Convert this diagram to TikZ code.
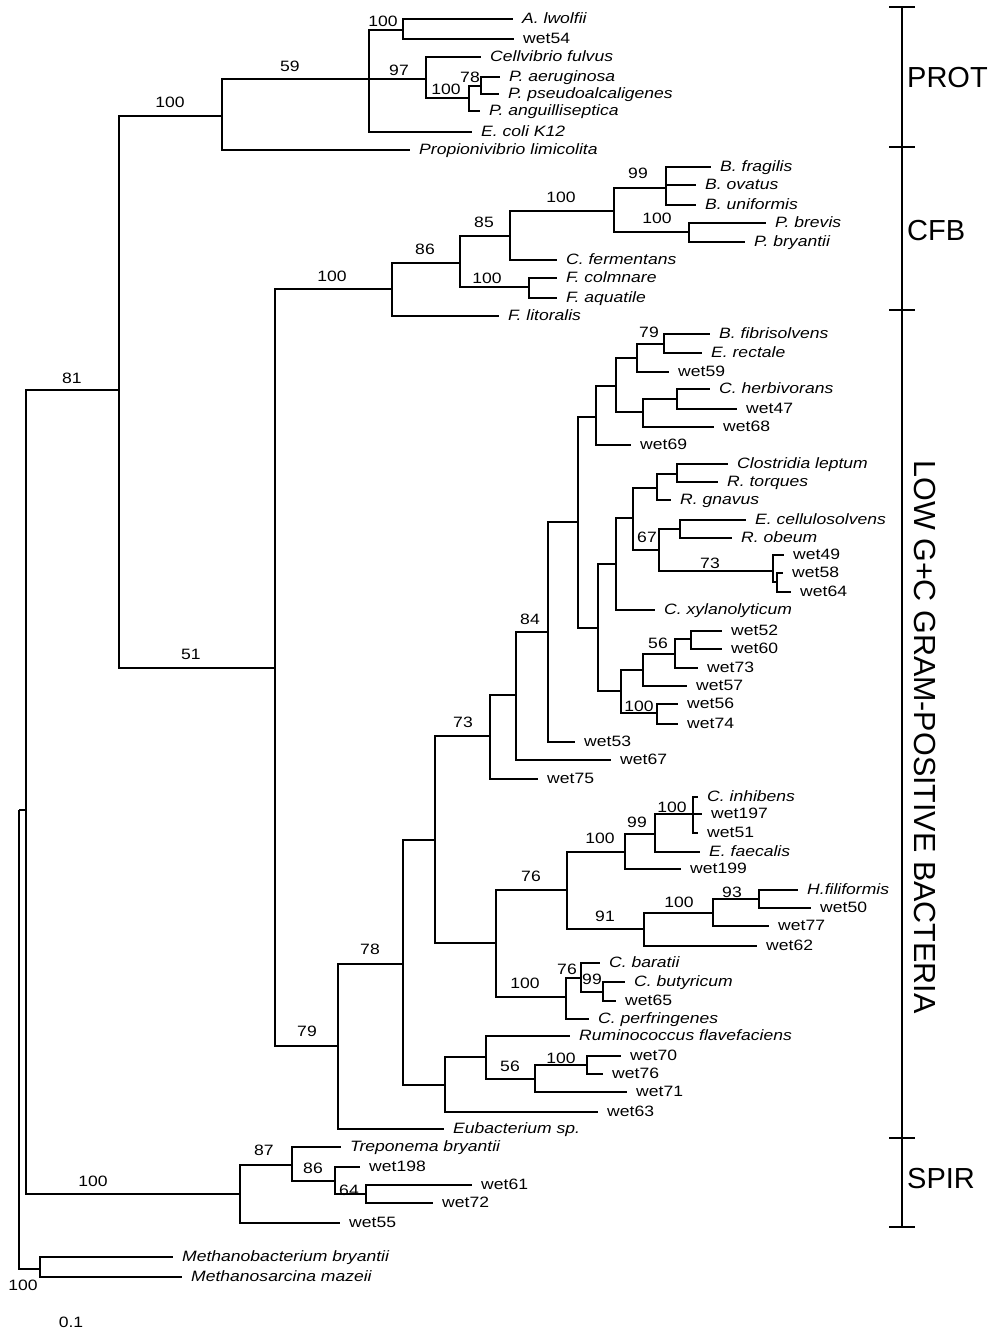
\documentclass[tikz,border=0pt]{standalone}
\usepackage{fontspec}
\newfontfamily\treefont[FakeStretch=1.17]{Liberation Sans}
\newfontfamily\groupfont{Liberation Sans}
\tikzset{
  branch/.style={line width=1.3pt, line join=miter},
  leaf/.style={anchor=west, inner xsep=9pt, inner ysep=0pt, text height=9pt, text depth=0pt,
    font=\treefont\fontsize{15}{18}\selectfont},
  boot/.style={inner sep=0pt, font=\treefont\fontsize{15}{18}\selectfont},
  group/.style={anchor=west, inner sep=0pt, font=\groupfont\fontsize{29}{32}\selectfont},
}

\begin{document}
\begin{tikzpicture}[x=1pt, y=-1pt]
\useasboundingbox (0,0) rectangle (995,1334);

\coordinate (root) at (19,810);
\coordinate (nA) at (26,810);
\coordinate (nMeth) at (40,1269);
\coordinate (nB) at (119,390);
\coordinate (nSpir) at (240,1194);
\coordinate (n292) at (292,1165);
\coordinate (n335) at (335,1181);
\coordinate (n366) at (366,1194);
\coordinate (nProt) at (222,116);
\coordinate (n369) at (369,79);
\coordinate (n403) at (403,30);
\coordinate (n426) at (426,79);
\coordinate (n469) at (469,98);
\coordinate (n481) at (481,86);
\coordinate (nC) at (275,668);
\coordinate (nCFB) at (392,289);
\coordinate (n460) at (460,263);
\coordinate (n510) at (510,236);
\coordinate (n614) at (614,211);
\coordinate (n666) at (666,188);
\coordinate (n689) at (689,232);
\coordinate (n529) at (529,287);
\coordinate (n79) at (338,1046);
\coordinate (n78) at (403,964);
\coordinate (n435) at (435,840);
\coordinate (n490) at (490,736);
\coordinate (n516) at (516,695);
\coordinate (n548) at (548,632);
\coordinate (n578) at (578,522);
\coordinate (n596) at (596,417);
\coordinate (n616b) at (616,386);
\coordinate (n637) at (637,358);
\coordinate (n664) at (664,344);
\coordinate (n643b) at (643,412);
\coordinate (n677b) at (677,399);
\coordinate (n598) at (598,628);
\coordinate (n616) at (616,564);
\coordinate (n633) at (633,518);
\coordinate (n657) at (657,488);
\coordinate (n677) at (677,474);
\coordinate (n659) at (659,550);
\coordinate (n680) at (680,529);
\coordinate (n773) at (773,571);
\coordinate (n777) at (777,582);
\coordinate (n621) at (621,691);
\coordinate (n643) at (643,670);
\coordinate (n675) at (675,654);
\coordinate (n691) at (691,639);
\coordinate (n657b) at (657,713);
\coordinate (n496) at (496,943);
\coordinate (n567) at (567,890);
\coordinate (n625) at (625,852);
\coordinate (n655) at (655,834);
\coordinate (n693) at (693,814);
\coordinate (n644) at (644,929);
\coordinate (n713) at (713,913);
\coordinate (n759) at (759,899);
\coordinate (n566) at (566,997);
\coordinate (n581) at (581,978);
\coordinate (n603) at (603,992);
\coordinate (n445) at (445,1085);
\coordinate (n486) at (486,1057);
\coordinate (n535) at (535,1079);
\coordinate (n587) at (587,1065);

\node[leaf] (lwolfii) at (513,19) {\itshape A. lwolfii};
\node[leaf] (wet54) at (514,39) {wet54};
\node[leaf] (cellv) at (481,57) {\itshape Cellvibrio fulvus};
\node[leaf] (paer) at (500,77) {\itshape P. aeruginosa};
\node[leaf] (ppseu) at (499,94) {\itshape P. pseudoalcaligenes};
\node[leaf] (pang) at (480,111) {\itshape P. anguilliseptica};
\node[leaf] (ecoli) at (472,132) {\itshape E. coli K12};
\node[leaf] (propio) at (410,150) {\itshape Propionivibrio limicolita};
\node[leaf] (bfrag) at (711,167) {\itshape B. fragilis};
\node[leaf] (bovat) at (696,185) {\itshape B. ovatus};
\node[leaf] (bunif) at (696,205) {\itshape B. uniformis};
\node[leaf] (pbrev) at (766,223) {\itshape P. brevis};
\node[leaf] (pbry) at (745,242) {\itshape P. bryantii};
\node[leaf] (cferm) at (557,260) {\itshape C. fermentans};
\node[leaf] (fcol) at (557,278) {\itshape F. colmnare};
\node[leaf] (faqu) at (557,298) {\itshape F. aquatile};
\node[leaf] (flit) at (499,316) {\itshape F. litoralis};
\node[leaf] (bfib) at (710,334) {\itshape B. fibrisolvens};
\node[leaf] (erect) at (702,353) {\itshape E. rectale};
\node[leaf] (wet59) at (669,372) {wet59};
\node[leaf] (cherb) at (710,389) {\itshape C. herbivorans};
\node[leaf] (wet47) at (737,409) {wet47};
\node[leaf] (wet68) at (714,427) {wet68};
\node[leaf] (wet69) at (631,445) {wet69};
\node[leaf] (clept) at (728,464) {\itshape Clostridia leptum};
\node[leaf] (rtorq) at (718,482) {\itshape R. torques};
\node[leaf] (rgnav) at (671,500) {\itshape R. gnavus};
\node[leaf] (ecell) at (746,520) {\itshape E. cellulosolvens};
\node[leaf] (robe) at (732,538) {\itshape R. obeum};
\node[leaf] (wet49) at (784,555) {wet49};
\node[leaf] (wet58) at (783,573) {wet58};
\node[leaf] (wet64) at (791,592) {wet64};
\node[leaf] (cxyl) at (655,610) {\itshape C. xylanolyticum};
\node[leaf] (wet52) at (722,631) {wet52};
\node[leaf] (wet60) at (722,649) {wet60};
\node[leaf] (wet73) at (698,668) {wet73};
\node[leaf] (wet57) at (687,686) {wet57};
\node[leaf] (wet56) at (678,704) {wet56};
\node[leaf] (wet74) at (678,724) {wet74};
\node[leaf] (wet53) at (575,742) {wet53};
\node[leaf] (wet67) at (611,760) {wet67};
\node[leaf] (wet75) at (538,779) {wet75};
\node[leaf] (cinh) at (698,797) {\itshape C. inhibens};
\node[leaf] (wet197) at (702,814) {wet197};
\node[leaf] (wet51) at (698,833) {wet51};
\node[leaf] (efaec) at (700,852) {\itshape E. faecalis};
\node[leaf] (wet199) at (681,869) {wet199};
\node[leaf] (hfil) at (798,890) {\itshape H.filiformis};
\node[leaf] (wet50) at (811,908) {wet50};
\node[leaf] (wet77) at (769,926) {wet77};
\node[leaf] (wet62) at (757,946) {wet62};
\node[leaf] (cbar) at (600,963) {\itshape C. baratii};
\node[leaf] (cbut) at (625,982) {\itshape C. butyricum};
\node[leaf] (wet65) at (616,1001) {wet65};
\node[leaf] (cperf) at (589,1019) {\itshape C. perfringenes};
\node[leaf] (rumino) at (570,1036) {\itshape Ruminococcus flavefaciens};
\node[leaf] (wet70) at (621,1056) {wet70};
\node[leaf] (wet76) at (603,1074) {wet76};
\node[leaf] (wet71) at (627,1092) {wet71};
\node[leaf] (wet63) at (598,1112) {wet63};
\node[leaf] (eubac) at (444,1129) {\itshape Eubacterium sp.};
\node[leaf] (trep) at (341,1147) {\itshape Treponema bryantii};
\node[leaf] (wet198) at (360,1167) {wet198};
\node[leaf] (wet61) at (472,1185) {wet61};
\node[leaf] (wet72) at (433,1203) {wet72};
\node[leaf] (wet55) at (340,1223) {wet55};
\node[leaf] (mbry) at (173,1257) {\itshape Methanobacterium bryantii};
\node[leaf] (mmaz) at (182,1277) {\itshape Methanosarcina mazeii};

\foreach \p/\c in {root/nA, root/nMeth, nMeth/mbry, nMeth/mmaz,
    nA/nB, nA/nSpir, nSpir/n292, nSpir/wet55, n292/trep, n292/n335,
    n335/wet198, n335/n366, n366/wet61, n366/wet72,
    nB/nProt, nB/nC, nProt/n369, nProt/propio,
    n369/n403, n369/n426, n369/ecoli, n403/lwolfii, n403/wet54,
    n426/cellv, n426/n469, n469/n481, n469/pang, n481/paer, n481/ppseu,
    nC/nCFB, nC/n79, nCFB/n460, nCFB/flit, n460/n510, n460/n529,
    n510/n614, n510/cferm, n614/n666, n614/n689,
    n666/bfrag, n666/bovat, n666/bunif, n689/pbrev, n689/pbry,
    n529/fcol, n529/faqu,
    n79/n78, n79/eubac, n78/n435, n78/n445, n435/n490, n435/n496,
    n490/n516, n490/wet75, n516/n548, n516/wet67, n548/n578, n548/wet53,
    n578/n596, n578/n598, n596/n616b, n596/wet69, n616b/n637, n616b/n643b,
    n637/n664, n637/wet59, n664/bfib, n664/erect,
    n643b/n677b, n643b/wet68, n677b/cherb, n677b/wet47,
    n598/n616, n598/n621, n616/n633, n616/cxyl, n633/n657, n633/n659,
    n657/n677, n657/rgnav, n677/clept, n677/rtorq,
    n659/n680, n659/n773, n680/ecell, n680/robe,
    n773/wet49, n773/n777, n777/wet58, n777/wet64,
    n621/n643, n621/n657b, n643/n675, n643/wet57, n675/n691, n675/wet73,
    n691/wet52, n691/wet60, n657b/wet56, n657b/wet74,
    n496/n567, n496/n566, n567/n625, n567/n644, n625/n655, n625/wet199,
    n655/n693, n655/efaec, n693/cinh, n693/wet197, n693/wet51,
    n644/n713, n644/wet62, n713/n759, n713/wet77, n759/hfil, n759/wet50,
    n566/n581, n566/cperf, n581/cbar, n581/n603, n603/cbut, n603/wet65,
    n445/n486, n445/wet63, n486/rumino, n486/n535, n535/n587, n535/wet71,
    n587/wet70, n587/wet76}
  \draw[branch] (\p) |- (\c);

\foreach \bx/\by/\bv [count=\i] in {170/102/100, 290/66/59, 383/21/100, 399/70/97,
    446/89/100, 470/77/78, 332/276/100, 425/249/86, 484/222/85, 561/197/100,
    638/173/99, 657/218/100, 487/278/100, 72/378/81, 191/654/51,
    649/332/79, 530/619/84, 463/722/73, 647/537/67, 710/563/73, 658/643/56,
    639/706/100, 307/1031/79, 370/949/78, 531/876/76, 600/838/100, 637/822/99,
    672/807/100, 605/916/91, 679/902/100, 732/892/93, 525/983/100, 567/969/76,
    592/979/99, 510/1066/56, 561/1058/100, 93/1181/100, 264/1150/87,
    313/1168/86, 349/1190/64, 23/1285/100}
  \node[boot] (bs\i) at (\bx,\by) {\bv};

\node[boot] (scale) at (71,1322) {0.1};

\coordinate (brtop) at (902,7);
\coordinate (brbot) at (902,1227);
\draw[line width=1.2pt] (brtop) -- (brbot);
\foreach \t in {7,147,310,1138,1227}
  \draw[line width=1.2pt] (889,\t) -- (915,\t);
\node[group] (prot) at (907,78) {PROT};
\node[group] (cfb) at (907,231) {CFB};
\node[group] (spir) at (907,1179) {SPIR};
\node[group, anchor=center, rotate=-90, font=\groupfont\fontsize{30.5}{33}\selectfont]
  (lowgc) at (925,737) {LOW G+C GRAM-POSITIVE BACTERIA};
\end{tikzpicture}
\end{document}
